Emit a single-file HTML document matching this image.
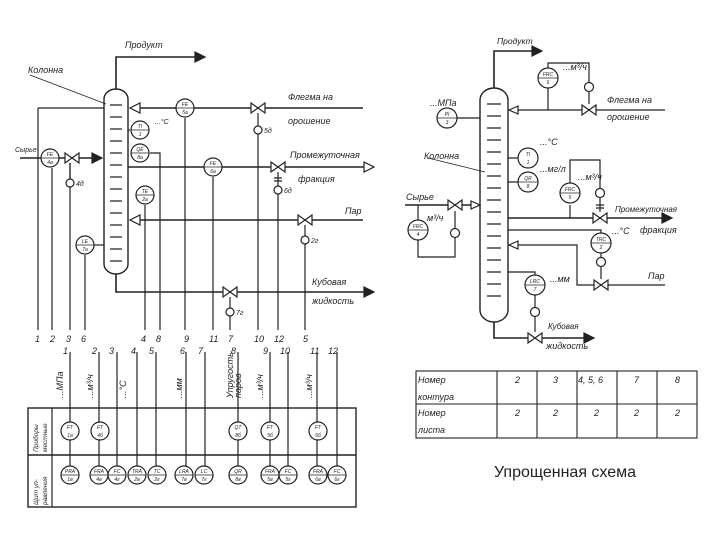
<!DOCTYPE html>
<html><head><meta charset="utf-8"><style>
html,body{margin:0;padding:0;background:#fff;}
svg{display:block}
text{font-family:"Liberation Sans","DejaVu Sans",sans-serif;fill:#222}
.i{font-style:italic;font-size:9px}
.s{font-size:5px;font-style:italic}
</style></head><body>
<svg width="720" height="540" viewBox="0 0 720 540" xmlns="http://www.w3.org/2000/svg">
<defs>
<g id="v"><polygon points="-7,-5 0,0 -7,5" fill="#fff" stroke="#222" stroke-width="1.2"/><polygon points="7,-5 0,0 7,5" fill="#fff" stroke="#222" stroke-width="1.2"/></g>
<g id="vv"><polygon points="-6,-4 0,0 -6,4" fill="#222"/><polygon points="6,-4 0,0 6,4" fill="#fff" stroke="#222"/></g>
</defs>
<g stroke="#222" fill="none" stroke-width="1.2">
<!-- LEFT column -->
<rect x="104" y="89" width="24" height="185" rx="12" ry="10" stroke-width="1.4"/>
<path d="M110 105h12M110 117h12M110 129h12M110 141h12M110 153h12M110 165h12M110 177h12M110 189h12M110 201h12M110 213h12M110 225h12M110 237h12M110 249h12M110 261h12"/>
<!-- product -->
<path d="M116 89V57H195" stroke-width="1.6"/>
<polygon points="195,52 205,57 195,62" fill="#222"/>
<path d="M30 75 L106 104" stroke-width="0.8"/>
<!-- top line -->
<path d="M38 108H104"/>
<path d="M140 108H363" stroke-width="1.4"/>
<polygon points="130,108 140,103 140,113" fill="#fff"/>
<!-- Feed -->
<path d="M20 158H94" stroke-width="1.6"/>
<polygon points="92,153 102,158 92,163" fill="#222"/>
<!-- intermediate -->
<path d="M128 167H365" stroke-width="1.6"/>
<polygon points="364,162 374,167 364,172" fill="#fff"/>
<!-- steam -->
<path d="M140 220H363" stroke-width="1.4"/>
<polygon points="130,220 140,215 140,225" fill="#fff"/>
<!-- bottom -->
<path d="M116 274V292H365" stroke-width="1.6"/>
<polygon points="364,287 374,292 364,297" fill="#222"/>
<!-- LE -->
<path d="M94 245H104"/>
<!-- QE line -->
<path d="M150 153H160V330"/>
<!-- instrument verticals -->
<path d="M38 108V330M52 168V330M70 163V330M70 187V330M85 255V330M145 205V330M185 118V330M213 177V330M230 316V330M258 134V330M278 194V330M305 244V330"/>
<path d="M128 130H130"/>
<!-- valve stems -->
<path d="M70 163V179M258 113V126M278 172V186M305 225V236M230 297V308"/>
<path d="M274 178h8M274 181h8"/>
<!-- circles -->
<circle cx="50" cy="158" r="9" fill="#fff"/>
<circle cx="140" cy="130" r="9" fill="#fff"/>
<circle cx="140" cy="153" r="9" fill="#fff"/>
<circle cx="145" cy="195" r="9" fill="#fff"/>
<circle cx="185" cy="108" r="9" fill="#fff"/>
<circle cx="213" cy="167" r="9" fill="#fff"/>
<circle cx="85" cy="245" r="9" fill="#fff"/>
<circle cx="70" cy="183" r="4" fill="#fff"/>
<circle cx="258" cy="130" r="4" fill="#fff"/>
<circle cx="278" cy="190" r="4" fill="#fff"/>
<circle cx="305" cy="240" r="4" fill="#fff"/>
<circle cx="230" cy="312" r="4" fill="#fff"/>
<!-- second row verticals -->
<path d="M70 352V466M99 352V466M117 352V466M137 352V466M156 352V466M186 352V466M205 352V466M238 352V466M270 352V466M288 352V466M317 352V466M337 352V466"/>
<!-- panel -->
<rect x="28" y="408" width="328" height="99" stroke-width="1.4"/>
<path d="M28 455H356" stroke-width="1.6"/>
<path d="M52 408V507"/>
</g>
<g stroke="#222" stroke-width="1.2" fill="#fff">
<circle cx="70" cy="431" r="9"/><circle cx="100" cy="431" r="9"/><circle cx="238" cy="431" r="9"/><circle cx="270" cy="431" r="9"/><circle cx="318" cy="431" r="9"/>
<circle cx="70" cy="475" r="9"/><circle cx="99" cy="475" r="9"/><circle cx="117" cy="475" r="9"/><circle cx="137" cy="475" r="9"/><circle cx="157" cy="475" r="9"/><circle cx="184" cy="475" r="9"/><circle cx="204" cy="475" r="9"/><circle cx="238" cy="475" r="9"/><circle cx="270" cy="475" r="9"/><circle cx="288" cy="475" r="9"/><circle cx="318" cy="475" r="9"/><circle cx="337" cy="475" r="9"/>
</g>
<g stroke="#222" stroke-width="0.8">
<path d="M61 475h18M90 475h18M108 475h18M128 475h18M148 475h18M175 475h18M195 475h18M229 475h18M261 475h18M279 475h18M309 475h18M328 475h18"/>
<path d="M41 158h18M131 130h18M131 153h18M136 195h18M176 108h18M204 167h18M76 245h18"/>
</g>
<use href="#v" x="72" y="158"/><use href="#v" x="258" y="108"/><use href="#v" x="278" y="167"/><use href="#v" x="305" y="220"/><use href="#v" x="230" y="292"/>
<!-- tiny labels left -->
<g class="s" text-anchor="middle">
<text x="50" y="156">FE</text><text x="50" y="164">4a</text>
<text x="140" y="128">TI</text><text x="140" y="136">1</text>
<text x="140" y="151">QE</text><text x="140" y="159">8a</text>
<text x="145" y="193">TE</text><text x="145" y="201">2a</text>
<text x="185" y="106">FE</text><text x="185" y="114">5a</text>
<text x="213" y="165">FE</text><text x="213" y="173">6a</text>
<text x="85" y="243">LE</text><text x="85" y="251">7a</text>
<text x="70" y="429">FT</text><text x="70" y="437">1a</text>
<text x="100" y="429">FT</text><text x="100" y="437">4б</text>
<text x="238" y="429">QT</text><text x="238" y="437">8б</text>
<text x="270" y="429">FT</text><text x="270" y="437">5б</text>
<text x="318" y="429">FT</text><text x="318" y="437">6б</text>
<text x="70" y="473">PRA</text><text x="70" y="481">1в</text>
<text x="99" y="473">FRA</text><text x="99" y="481">4в</text>
<text x="117" y="473">FC</text><text x="117" y="481">4г</text>
<text x="137" y="473">TRA</text><text x="137" y="481">2в</text>
<text x="157" y="473">TC</text><text x="157" y="481">2г</text>
<text x="184" y="473">LRA</text><text x="184" y="481">7в</text>
<text x="204" y="473">LC</text><text x="204" y="481">7г</text>
<text x="238" y="473">QR</text><text x="238" y="481">8в</text>
<text x="270" y="473">FRA</text><text x="270" y="481">5в</text>
<text x="288" y="473">FC</text><text x="288" y="481">5г</text>
<text x="318" y="473">FRA</text><text x="318" y="481">6в</text>
<text x="337" y="473">FC</text><text x="337" y="481">6г</text>
</g>
<g class="i">
<text x="125" y="48">Продукт</text>
<text x="28" y="73">Колонна</text>
<text x="288" y="100">Флегма на</text>
<text x="288" y="124">орошение</text>
<text x="15" y="152" font-size="7">Сырье</text>
<text x="290" y="158">Промежуточная</text>
<text x="298" y="182">фракция</text>
<text x="345" y="214">Пар</text>
<text x="312" y="285">Кубовая</text>
<text x="312" y="304">жидкость</text>
<text x="155" y="124" font-size="7">...°C</text>
<text x="76" y="186" font-size="7">4д</text>
<text x="264" y="133" font-size="7">5д</text>
<text x="284" y="193" font-size="7">6д</text>
<text x="311" y="243" font-size="7">2г</text>
<text x="236" y="315" font-size="7">7г</text>
</g>
<g class="i" font-size="8">
<text x="35" y="342">1</text><text x="50" y="342">2</text><text x="66" y="342">3</text><text x="81" y="342">6</text><text x="141" y="342">4</text><text x="156" y="342">8</text><text x="184" y="342">9</text><text x="209" y="342">11</text><text x="228" y="342">7</text><text x="254" y="342">10</text><text x="274" y="342">12</text><text x="303" y="342">5</text>
<text x="63" y="354">1</text><text x="92" y="354">2</text><text x="109" y="354">3</text><text x="131" y="354">4</text><text x="149" y="354">5</text><text x="180" y="354">6</text><text x="198" y="354">7</text><text x="231" y="354">8</text><text x="263" y="354">9</text><text x="280" y="354">10</text><text x="310" y="354">11</text><text x="328" y="354">12</text>
</g>
<g class="i" font-size="7">
<text transform="translate(63,398) rotate(-90)">...МПа</text>
<text transform="translate(93,398) rotate(-90)">...м³/ч</text>
<text transform="translate(126,398) rotate(-90)">...°C</text>
<text transform="translate(182,398) rotate(-90)">...мм</text>
<text transform="translate(233,398) rotate(-90)">Упругость</text>
<text transform="translate(241,398) rotate(-90)">паров</text>
<text transform="translate(263,398) rotate(-90)">...м³/ч</text>
<text transform="translate(312,398) rotate(-90)">...м³/ч</text>
<text transform="translate(38,452) rotate(-90)" font-size="6.5">Приборы</text>
<text transform="translate(47,452) rotate(-90)" font-size="6.5">местные</text>
<text transform="translate(38,505) rotate(-90)" font-size="6.5">Щит уп-</text>
<text transform="translate(47,505) rotate(-90)" font-size="6.5">равления</text>
</g>

<!-- RIGHT diagram -->
<g stroke="#222" fill="none" stroke-width="1.2">
<rect x="480" y="88" width="28" height="234" rx="14" ry="12" stroke-width="1.4"/>
<path d="M487 104h14M487 116h14M487 128h14M487 140h14M487 152h14M487 164h14M487 176h14M487 188h14M487 200h14M487 212h14M487 224h14M487 236h14M487 248h14M487 260h14M487 272h14M487 284h14M487 296h14"/>
<path d="M494 88V51H533" stroke-width="1.6"/>
<polygon points="532,46 542,51 532,56" fill="#222"/>
<path d="M518 110H665" stroke-width="1.2"/>
<polygon points="509,110 518,106 518,114" fill="#fff"/>
<path d="M548 88V110M548 68V63H589V82M589 92V104"/>
<path d="M457 118H480"/>
<path d="M508 158H518M508 182H518"/>
<path d="M428 158 L485 172" stroke-width="0.7"/>
<path d="M405 205H472" stroke-width="1.6"/>
<polygon points="471,201 480,205 471,209" fill="#fff"/>
<path d="M418 205V220M418 240V257H455V238M455 228V211"/>
<path d="M508 218H663" stroke-width="1.6"/>
<polygon points="662,213 672,218 662,223" fill="#222"/>
<path d="M570 205V218M570 183V160H600V188M600 198V212"/>
<path d="M596 205h8M596 208h8"/>
<path d="M508 230H601V233M601 253V258M601 266V279"/>
<path d="M518 245H577V285H665"/>
<polygon points="509,245 518,241 518,249" fill="#fff"/>
<path d="M508 272H535V275M535 295V308M535 316V332"/>
<path d="M494 322V338H585" stroke-width="1.6"/>
<polygon points="584,333 594,338 584,343" fill="#222"/>
</g>
<g stroke="#222" stroke-width="1.2" fill="#fff">
<circle cx="548" cy="78" r="10"/><circle cx="589" cy="87" r="4.5"/>
<circle cx="447" cy="118" r="10"/>
<circle cx="528" cy="158" r="10"/><circle cx="528" cy="182" r="10"/>
<circle cx="570" cy="193" r="10"/><circle cx="600" cy="193" r="4.5"/>
<circle cx="418" cy="230" r="10"/><circle cx="455" cy="233" r="4.5"/>
<circle cx="601" cy="243" r="10"/><circle cx="601" cy="262" r="4.5"/>
<circle cx="535" cy="285" r="10"/><circle cx="535" cy="312" r="4.5"/>
</g>
<g stroke="#222" stroke-width="0.8"><path d="M538 78h20M437 118h20M518 182h20M560 193h20M408 230h20M591 243h20M525 285h20"/></g>
<use href="#v" x="589" y="110"/><use href="#v" x="455" y="205"/><use href="#v" x="600" y="218"/><use href="#v" x="601" y="285"/><use href="#v" x="535" y="338"/>
<g class="s" text-anchor="middle">
<text x="548" y="76">FRC</text><text x="548" y="84">6</text>
<text x="447" y="116">PI</text><text x="447" y="124">3</text>
<text x="528" y="156">TI</text><text x="528" y="164">1</text>
<text x="528" y="180">QR</text><text x="528" y="188">8</text>
<text x="570" y="191">FRC</text><text x="570" y="199">5</text>
<text x="418" y="228">FRC</text><text x="418" y="236">4</text>
<text x="601" y="241">TRC</text><text x="601" y="249">2</text>
<text x="535" y="283">LRC</text><text x="535" y="291">7</text>
</g>
<g class="i" font-size="7.5">
<text x="497" y="44" font-size="8.5">Продукт</text>
<text x="563" y="70">...м³/ч</text>
<text x="607" y="103">Флегма на</text>
<text x="607" y="120">орошение</text>
<text x="430" y="106">...МПа</text>
<text x="540" y="145">...°C</text>
<text x="540" y="172">...мг/л</text>
<text x="578" y="180">...м³/ч</text>
<text x="424" y="159">Колонна</text>
<text x="406" y="200">Сырье</text>
<text x="427" y="221">м³/ч</text>
<text x="615" y="212" font-size="8">Промежуточная</text>
<text x="640" y="233">фракция</text>
<text x="612" y="234">...°C</text>
<text x="648" y="279">Пар</text>
<text x="550" y="282">...мм</text>
<text x="548" y="329" font-size="8">Кубовая</text>
<text x="546" y="349">жидкость</text>
</g>

<!-- table -->
<g stroke="#222" stroke-width="1.1" fill="none">
<rect x="416" y="371" width="281" height="67"/>
<path d="M416 404H697M497 371V438M537 371V438M577 371V438M617 371V438M657 371V438"/>
</g>
<g class="i" font-size="11">
<text x="418" y="383">Номер</text><text x="418" y="400">контура</text>
<text x="418" y="416">Номер</text><text x="418" y="433">листа</text>
<text x="515" y="383">2</text><text x="553" y="383">3</text><text x="578" y="383">4, 5, 6</text><text x="634" y="383">7</text><text x="675" y="383">8</text>
<text x="515" y="416">2</text><text x="553" y="416">2</text><text x="594" y="416">2</text><text x="634" y="416">2</text><text x="675" y="416">2</text>
</g>
<text x="565" y="477" text-anchor="middle" font-size="16">Упрощенная схема</text>
</svg>
</body></html>
